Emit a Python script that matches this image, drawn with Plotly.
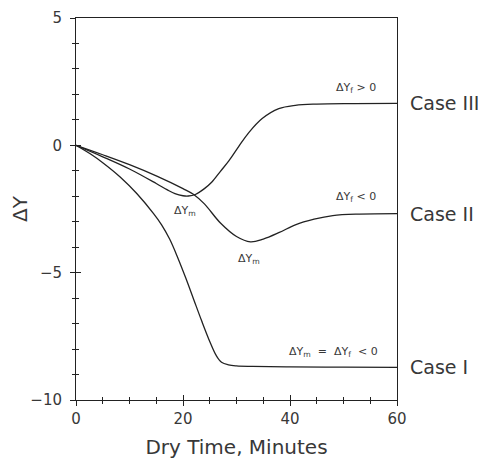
import plotly.graph_objects as go

# ---- data ----
case1_x = [0, 3, 5, 8.25, 11.4, 14.5, 16, 17.5, 19, 20.5, 22, 23.5, 25, 26.2, 27.2, 28.5, 30, 33, 40, 50, 60]
case1_y = [0, -0.38, -0.68, -1.24, -1.9, -2.68, -3.12, -3.68, -4.4, -5.2, -6.05, -6.9, -7.7, -8.25, -8.52, -8.62, -8.66, -8.68, -8.7, -8.71, -8.72]

case2_x = [0, 5, 10, 15, 20, 22, 24, 27, 30, 32.6, 35, 38, 41, 44.5, 48, 53, 60]
case2_y = [0, -0.37, -0.76, -1.2, -1.7, -1.93, -2.3, -3.05, -3.58, -3.79, -3.68, -3.42, -3.12, -2.9, -2.76, -2.7, -2.68]

case3_x = [0, 5, 10, 15, 17, 18.5, 20, 21, 22.3, 24, 25.4, 27, 28.6, 30.4, 32.3, 34.8, 37.9, 41, 45, 52, 60]
case3_y = [0, -0.45, -0.93, -1.5, -1.74, -1.9, -1.98, -1.99, -1.93, -1.7, -1.44, -1.02, -0.6, -0.05, 0.5, 1.05, 1.44, 1.57, 1.62, 1.64, 1.65]

case_labels = ["Case I", "Case II", "Case III"]
case_label_y = [-8.72, -2.7, 1.65]

x_range = [0, 60]
y_range = [-10, 5]

FONT = "DejaVu Sans"
INK = "#383838"
LINE = "#222222"

fig = go.Figure()
for xs, ys in [(case1_x, case1_y), (case2_x, case2_y), (case3_x, case3_y)]:
    fig.add_trace(go.Scatter(x=xs, y=ys, mode="lines",
                             line=dict(color=LINE, width=1.3, shape="spline", smoothing=1.0),
                             showlegend=False, hoverinfo="skip"))

# dummy trace for overlay axes (inside ticks so ticks cross the axis)
fig.add_trace(go.Scatter(x=[None], y=[None], xaxis="x2", yaxis="y2", showlegend=False, hoverinfo="skip"))

axis_common = dict(showgrid=False, zeroline=False, linecolor=LINE, linewidth=1, tickcolor=LINE,
                   tickwidth=1, automargin=False)

fig.update_layout(
    width=478, height=453,
    margin=dict(l=68, r=89, t=10, b=61),
    paper_bgcolor="white", plot_bgcolor="white",
    font=dict(family=FONT, color=INK),
    xaxis=dict(range=x_range, dtick=20, tick0=0, ticks="outside", ticklen=5, showline=True, mirror=True,
               tickfont=dict(size=15, family=FONT, color=INK),
               minor=dict(dtick=5, ticks="outside", ticklen=3, tickcolor=LINE),
               title=dict(text="Dry Time, Minutes", font=dict(size=20, family=FONT, color=INK), standoff=12),
               **axis_common),
    yaxis=dict(range=y_range, dtick=5, tick0=0, ticks="outside", ticklen=5, showline=True, mirror=True,
               tickfont=dict(size=15, family=FONT, color=INK), ticklabelstandoff=5,
               minor=dict(dtick=1, ticks="outside", ticklen=3, tickcolor=LINE),
               title=dict(text="ΔY", font=dict(size=20, family=FONT, color=INK), standoff=13),
               **axis_common),
    xaxis2=dict(range=x_range, overlaying="x", dtick=20, tick0=0, ticks="inside", ticklen=5, showticklabels=False,
                showline=False, showgrid=False, zeroline=False, tickcolor=LINE, automargin=False,
                minor=dict(dtick=5, ticks="inside", ticklen=3, tickcolor=LINE)),
    yaxis2=dict(range=y_range, overlaying="y", dtick=5, tick0=0, ticks="inside", ticklen=5, showticklabels=False,
                showline=False, showgrid=False, zeroline=False, tickcolor=LINE, automargin=False,
                minor=dict(dtick=1, ticks="inside", ticklen=3, tickcolor=LINE)),
)

small = dict(size=11, family=FONT, color=INK)
notes = [
    ("ΔY<sub>m</sub>", 20.4, -2.59),
    ("ΔY<sub>m</sub>", 32.25, -4.47),
    ("ΔY<sub>f</sub> > 0", 52.3, 2.24),
    ("ΔY<sub>f</sub> < 0", 52.3, -2.04),
    ("ΔY<sub>m</sub>  =  ΔY<sub>f</sub>  < 0", 48.2, -8.12),
]
for t, x, y in notes:
    fig.add_annotation(text=t, x=x, y=y, xref="x", yref="y", showarrow=False, font=small,
                       xanchor="center", yanchor="middle")

for lab, y in zip(case_labels, case_label_y):
    fig.add_annotation(text=lab, x=x_range[1], y=y, xref="x", yref="y", showarrow=False,
                       xanchor="left", yanchor="middle", xshift=11,
                       font=dict(size=19, family=FONT, color=INK))

fig.write_html("out.html")
